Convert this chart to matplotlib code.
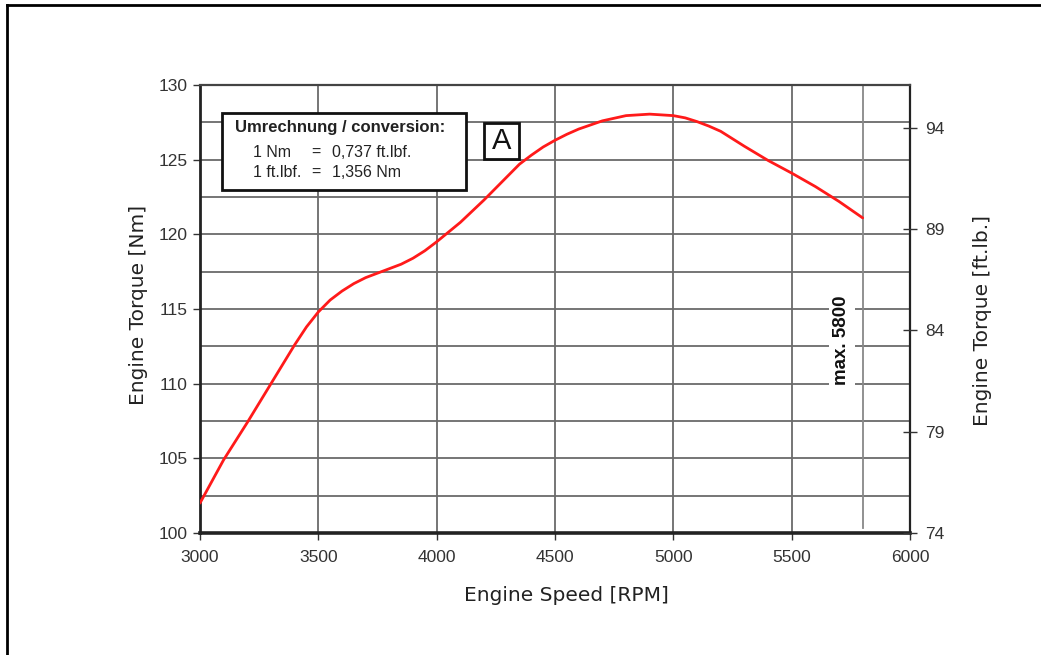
import matplotlib
matplotlib.use('Agg')
import matplotlib.pyplot as plt
from matplotlib.patches import Rectangle
from matplotlib.lines import Line2D

# engine torque curve
rpm = [3000, 3100, 3200, 3300, 3400, 3450, 3500, 3550, 3600, 3650, 3700, 3800, 3850, 3900, 3950,
       4000, 4100, 4200, 4300, 4350, 4400, 4450, 4500, 4550, 4600, 4700, 4800, 4900,
       5000, 5050, 5100, 5150, 5200, 5250, 5300, 5400, 5500, 5600, 5700, 5800]
torque_nm = [102.0, 104.9, 107.4, 110.0, 112.6, 113.8, 114.8, 115.6, 116.2, 116.7, 117.1, 117.7, 118.0, 118.4, 118.9,
             119.5, 120.8, 122.3, 123.9, 124.7, 125.3, 125.85, 126.3, 126.7, 127.05, 127.6, 127.95, 128.05,
             127.95, 127.8, 127.55, 127.25, 126.9, 126.4, 125.9, 124.95, 124.1, 123.2, 122.2, 121.1]

x_ticks = [3000, 3500, 4000, 4500, 5000, 5500, 6000]
nm_ticks = [100, 105, 110, 115, 120, 125, 130]
ftlb_ticks = [74, 79, 84, 89, 94]
max_rpm = 5800

sans = ['Liberation Sans', 'DejaVu Sans']
label_font = ['DejaVu Sans']
tick_col = '#333333'
grid_col = '#6a6a6a'

fig = plt.figure(figsize=(10.41, 6.55), dpi=100)
ax = fig.add_axes([0.1921, 0.1863, 0.6821, 0.6839])

ax.set_xlim(3000, 6000)
ax.set_ylim(100, 130)

# grid: every 500 rpm, every 2.5 Nm
for xv in x_ticks[1:-1]:
    ax.axvline(xv, color=grid_col, lw=1.3, zorder=1)
yv = 102.5
while yv < 130:
    ax.axhline(yv, color=grid_col, lw=1.3, zorder=1)
    yv += 2.5
ax.plot([max_rpm, max_rpm], [100.3, 130], color='#888888', lw=1.3, zorder=1)

ax.plot(rpm, torque_nm, color='#ff1a1a', lw=2.0, zorder=5,
        solid_joinstyle='round', solid_capstyle='round')

ax.set_xticks(x_ticks)
ax.set_yticks(nm_ticks)
ax.tick_params(axis='both', direction='out', length=5, width=1, colors=tick_col,
               labelsize=12.5, pad=4)
for lab in ax.get_xticklabels() + ax.get_yticklabels():
    lab.set_family(sans)
ax.tick_params(axis='x', pad=7)

for side, lw, c in [('left', 2.0, '#222222'), ('bottom', 2.6, '#222222'),
                    ('right', 1.6, '#222222'), ('top', 1.6, '#444444')]:
    ax.spines[side].set_linewidth(lw)
    ax.spines[side].set_color(c)

ax.set_xlabel('Engine Speed [RPM]', family=label_font, fontsize=14.5, color='#222222')
ax.xaxis.set_label_coords(0.5155, -0.118)
ax.set_ylabel('Engine Torque [Nm]', family=label_font, fontsize=14.5, color='#222222')
ax.yaxis.set_label_coords(-0.073, 0.509)

ax2 = ax.twinx()
ax2.set_ylim(74, 96.12)
ax2.set_yticks(ftlb_ticks)
ax2.tick_params(axis='y', direction='inout', length=10, width=1, colors=tick_col,
                labelsize=12.5, pad=6)
for lab in ax2.get_yticklabels():
    lab.set_family(sans)
for s in ax2.spines.values():
    s.set_visible(False)
ax2.set_ylabel('Engine Torque [ft.lb.]', family=label_font, fontsize=14.5, color='#222222')
ax2.yaxis.set_label_coords(1.088, 0.475)

# conversion box
ax.add_patch(Rectangle((0.031, 0.7656), 0.3436, 0.1719, transform=ax.transAxes,
                       facecolor='white', edgecolor='#111111', lw=2, zorder=6))
ax.text(0.0493, 0.906, 'Umrechnung / conversion:', transform=ax.transAxes, family=sans,
        fontsize=12, fontweight='bold', color='#222222', va='center', zorder=7)
col_x = [0.0746, 0.1563, 0.1859]
rows = [(0.8504, '1 Nm', '0,737 ft.lbf.'), (0.8058, '1 ft.lbf.', '1,356 Nm')]
for ry, left, right in rows:
    ax.text(col_x[0], ry, left, transform=ax.transAxes, family=sans, fontsize=11.5,
            color='#222222', va='center', zorder=7)
    ax.text(col_x[1], ry, '=', transform=ax.transAxes, family=sans, fontsize=11.5,
            color='#222222', va='center', zorder=7)
    ax.text(col_x[2], ry, right, transform=ax.transAxes, family=sans, fontsize=11.5,
            color='#222222', va='center', zorder=7)

# "A" marker box
ax.add_patch(Rectangle((0.4, 0.835), 0.049, 0.08, transform=ax.transAxes,
                       facecolor='white', edgecolor='#111111', lw=2, zorder=6))
ax.text(0.4245, 0.874, 'A', transform=ax.transAxes, family=sans, fontsize=21,
        color='#111111', ha='center', va='center', zorder=7)

ax.text(5712, 112.9, 'max. 5800', rotation=90, family=sans, fontsize=13.5,
        fontweight='bold', color='#111111', ha='center', va='center', zorder=4,
        bbox=dict(facecolor='white', edgecolor='none', pad=3))

# outer frame (left and top edges)
fig.add_artist(Line2D([0.0067, 0.0067], [0, 0.9925], transform=fig.transFigure,
                      color='black', lw=2))
fig.add_artist(Line2D([0.0067, 1], [0.9925, 0.9925], transform=fig.transFigure,
                      color='black', lw=2))

fig.savefig('out.png', dpi=100)
